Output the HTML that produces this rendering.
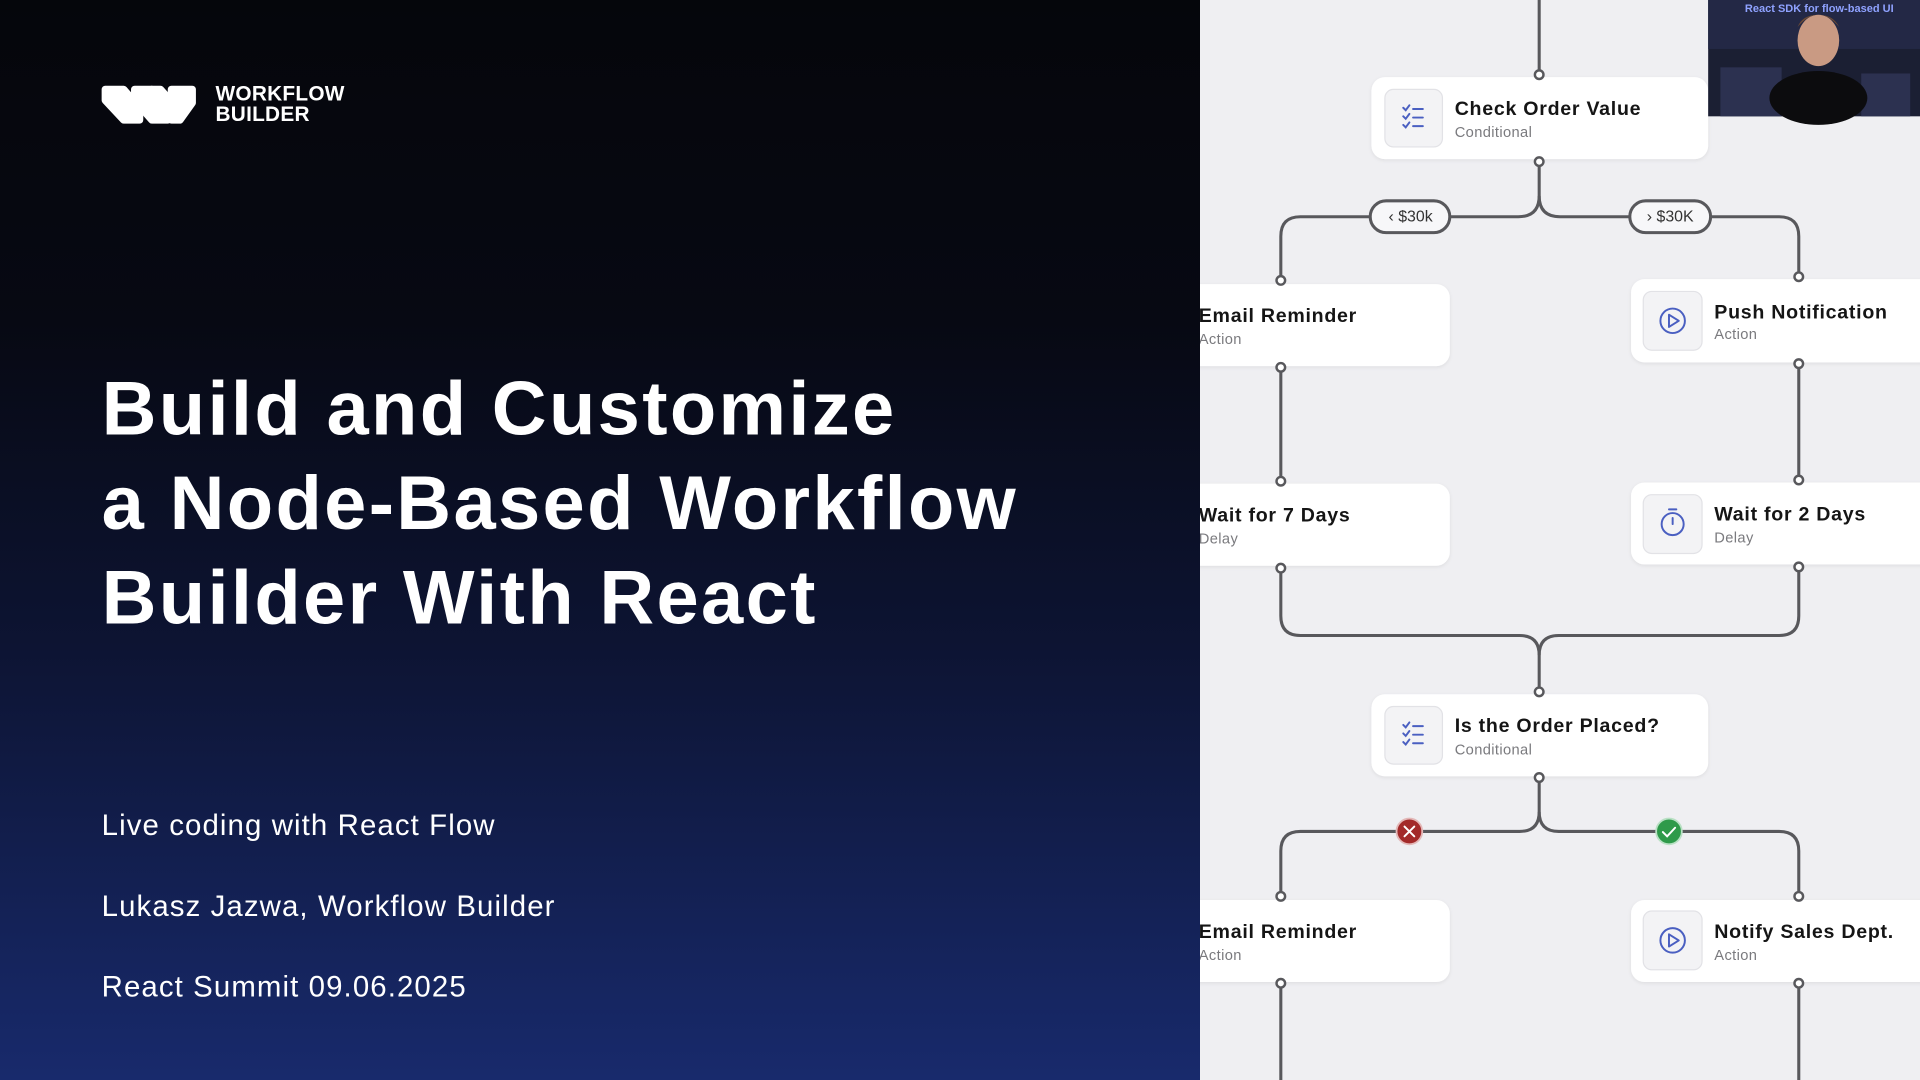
<!DOCTYPE html>
<html><head><meta charset="utf-8"><style>
html,body{margin:0;padding:0;width:1920px;height:1080px;overflow:hidden;background:#0a0c18;}
#s{position:absolute;left:0;top:0;width:1568px;height:882px;transform-origin:0 0;transform:scale(1.2244898);}
#left{position:absolute;left:0;top:0;width:980px;height:882px;background:linear-gradient(180deg,#05060b 0%,#070913 30%,#0d1433 60%,#182a6c 100%);font-family:"Liberation Sans",sans-serif;color:#fff;}
#right{position:absolute;left:980px;top:0;width:588px;height:882px;background:#efeff2;overflow:hidden;}
.logo{position:absolute;left:176px;top:68px;font-weight:bold;font-size:17px;line-height:17px;letter-spacing:0.2px;}
h1{position:absolute;left:83px;top:296px;margin:0;font-size:62px;line-height:77px;font-weight:bold;letter-spacing:1.9px;}
.sub{position:absolute;left:83px;font-size:24px;letter-spacing:0.9px;}
</style></head><body><div id="s">
<div id="left">
<svg style="position:absolute;left:0;top:0" width="200" height="120">
<g fill="#fff" stroke="#fff" stroke-width="6" stroke-linejoin="round">
<path d="M86 73 H101 L114 88 V98 H101 L86 82 Z"/>
<path d="M110 73 H124 L137 88 V98 H124 L110 82 Z"/>
<path d="M124 73 L131 73 L140 83 L140 95 L128 82 Z"/>
<path d="M140 73 H157 V84 L147 98 H140 Z"/>
</g>
</svg>
<div class="logo">WORKFLOW<br>BUILDER</div>
<h1>Build and Customize<br>a Node-Based Workflow<br>Builder With React</h1>
<div class="sub" style="top:661px">Live coding with React Flow</div>
<div class="sub" style="top:727px">Lukasz Jazwa, Workflow Builder</div>
<div class="sub" style="top:793px">React Summit 09.06.2025</div>
</div>
<div id="right">
<svg width="588" height="882" viewBox="980 0 588 882" style="position:absolute;left:0;top:0;font-family:'Liberation Sans',sans-serif">
<defs>
<filter id="sh" x="-10%" y="-20%" width="120%" height="150%"><feDropShadow dx="0" dy="1" stdDeviation="1.5" flood-color="#000" flood-opacity="0.08"/></filter>
<g id="chk" fill="none" stroke="#4a5fc1" stroke-width="1.6" stroke-linecap="round">
<path d="M-8 -8 l2 2 l3 -4 M-8 -1 l2 2 l3 -4 M-8 6 l2 2 l3 -4"/>
<path d="M0 -7 H8 M0 0 H8 M0 7 H8"/>
</g>
<g id="play" fill="none" stroke="#4a5fc1" stroke-width="1.6" stroke-linejoin="round">
<circle r="10"/><path d="M-3 -5 L5 0 L-3 5 Z"/>
</g>
<g id="tim" fill="none" stroke="#4a5fc1" stroke-width="1.6" stroke-linecap="round">
<circle r="9" cy="1"/><path d="M-3 -11 H3 M0 1 L0 -4"/>
</g>
</defs>
<g fill="none" stroke="#58585c" stroke-width="2.5">
<path d="M1257 0 V58"/>
<path d="M1257 135 V160 Q1257 177 1240 177 H1062 Q1046 177 1046 193 V226"/>
<path d="M1257 160 Q1257 177 1274 177 H1453 Q1469 177 1469 193 V223"/>
<path d="M1046 303 V390 M1469 300 V389"/>
<path d="M1046 467 V503 Q1046 519 1062 519 H1241 Q1257 519 1257 535 V562"/>
<path d="M1469 466 V503 Q1469 519 1453 519 H1273 Q1257 519 1257 535"/>
<path d="M1257 638 V663 Q1257 679 1241 679 H1062 Q1046 679 1046 695 V729"/>
<path d="M1257 663 Q1257 679 1273 679 H1453 Q1469 679 1469 695 V729"/>
<path d="M1046 806 V882 M1469 806 V882"/>
</g>
<g fill="#fff" filter="url(#sh)">
<rect x="1120" y="63" width="275" height="67" rx="11"/>
<rect x="900" y="232" width="284" height="67" rx="11"/>
<rect x="1332" y="228" width="260" height="68" rx="11"/>
<rect x="900" y="395" width="284" height="67" rx="11"/>
<rect x="1332" y="394" width="260" height="67" rx="11"/>
<rect x="1120" y="567" width="275" height="67" rx="11"/>
<rect x="900" y="735" width="284" height="67" rx="11"/>
<rect x="1332" y="735" width="260" height="67" rx="11"/>
</g>
<g fill="#f3f3f5" stroke="#e2e2e6" stroke-width="1">
<rect x="1131" y="73" width="47" height="47" rx="7"/>
<rect x="1342" y="238" width="48" height="48" rx="7"/>
<rect x="1342" y="404" width="48" height="48" rx="7"/>
<rect x="1131" y="577" width="47" height="47" rx="7"/>
<rect x="1342" y="744" width="48" height="48" rx="7"/>
</g>
<use href="#chk" x="1154" y="96"/>
<use href="#play" x="1366" y="262"/>
<use href="#tim" x="1366" y="427"/>
<use href="#chk" x="1154" y="600"/>
<use href="#play" x="1366" y="768"/>
<g font-weight="bold" font-size="16" fill="#151515" letter-spacing="0.6">
<text x="1188" y="94">Check Order Value</text>
<text x="979" y="263">Email Reminder</text>
<text x="1400" y="260">Push Notification</text>
<text x="979" y="426">Wait for 7 Days</text>
<text x="1400" y="425">Wait for 2 Days</text>
<text x="1188" y="598">Is the Order Placed?</text>
<text x="979" y="766">Email Reminder</text>
<text x="1400" y="766">Notify Sales Dept.</text>
</g>
<g font-size="12" fill="#7a7a7e" letter-spacing="0.3">
<text x="1188" y="112">Conditional</text>
<text x="979" y="281">Action</text>
<text x="1400" y="277">Action</text>
<text x="979" y="444">Delay</text>
<text x="1400" y="443">Delay</text>
<text x="1188" y="616">Conditional</text>
<text x="979" y="784">Action</text>
<text x="1400" y="784">Action</text>
</g>
<g fill="#fff" stroke="#58585c" stroke-width="2">
<circle cx="1257" cy="61" r="3.5"/><circle cx="1257" cy="132" r="3.5"/>
<circle cx="1046" cy="229" r="3.5"/><circle cx="1046" cy="300" r="3.5"/>
<circle cx="1469" cy="226" r="3.5"/><circle cx="1469" cy="297" r="3.5"/>
<circle cx="1046" cy="393" r="3.5"/><circle cx="1046" cy="464" r="3.5"/>
<circle cx="1469" cy="392" r="3.5"/><circle cx="1469" cy="463" r="3.5"/>
<circle cx="1257" cy="565" r="3.5"/><circle cx="1257" cy="635" r="3.5"/>
<circle cx="1046" cy="732" r="3.5"/><circle cx="1046" cy="803" r="3.5"/>
<circle cx="1469" cy="732" r="3.5"/><circle cx="1469" cy="803" r="3.5"/>
</g>
<g fill="#f7f7f9" stroke="#58585c" stroke-width="2.5">
<rect x="1119" y="164" width="65" height="26" rx="13"/>
<rect x="1331" y="164" width="66" height="26" rx="13"/>
</g>
<g font-size="13" fill="#333" text-anchor="middle">
<text x="1152" y="181">‹ $30k</text>
<text x="1364" y="181">› $30K</text>
</g>
<circle cx="1151" cy="679" r="10.5" fill="#a32a2a" stroke="#e3b8b8" stroke-width="1.5"/>
<path d="M1147 675 L1155 683 M1155 675 L1147 683" stroke="#fff" stroke-width="1.6" stroke-linecap="round"/>
<circle cx="1363" cy="679" r="10.5" fill="#2e9a4a" stroke="#b9e0c4" stroke-width="1.5"/>
<path d="M1358 679.5 L1361.5 683 L1368 676" fill="none" stroke="#fff" stroke-width="1.6" stroke-linecap="round"/>
<rect x="1395" y="0" width="173" height="95" fill="#1b1f33"/>
<rect x="1395" y="0" width="173" height="40" fill="#232845"/>
<text x="1425" y="10" font-size="9" font-weight="bold" fill="#8fa2ff">React SDK for flow-based UI</text>
<rect x="1405" y="55" width="50" height="40" fill="#2c3150"/>
<rect x="1520" y="60" width="40" height="35" fill="#2c3150"/>
<ellipse cx="1485" cy="80" rx="40" ry="22" fill="#0c0c0e"/>
<ellipse cx="1485" cy="33" rx="17" ry="21" fill="#c99a83"/>
<path d="M1468 22 Q1485 2 1502 22 Q1497 12 1485 12 Q1472 12 1468 22Z" fill="#6b4a35"/>
</svg>
</div>
</div></body></html>
